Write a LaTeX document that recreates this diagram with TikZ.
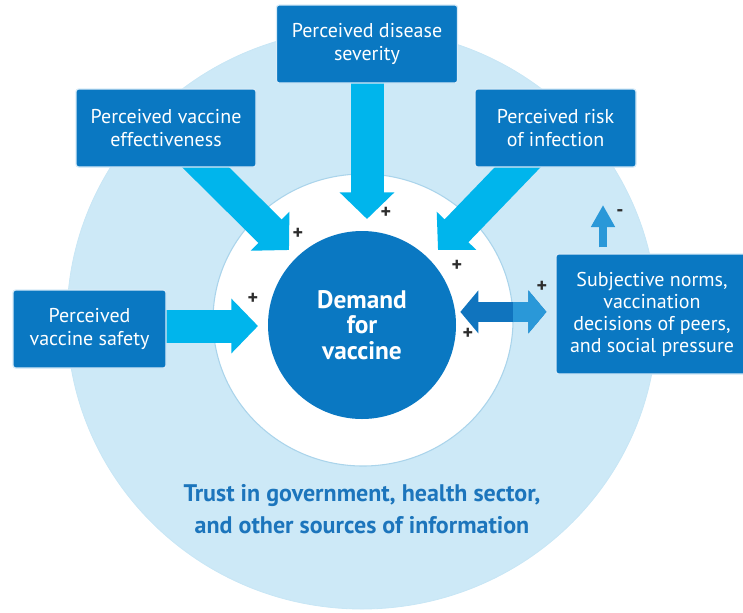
\documentclass[tikz,border=0pt]{standalone}
\usepackage{fontspec}
\setmainfont{PT Sans}
\usetikzlibrary{positioning, arrows.meta, calc, backgrounds}

\definecolor{ringblue}{RGB}{205,233,247}
\definecolor{ringedge}{RGB}{170,212,235}
\definecolor{boxblue}{RGB}{10,120,194}
\definecolor{boxedge}{RGB}{215,235,248}
\definecolor{feedcyan}{RGB}{0,181,236}
\definecolor{peerdark}{RGB}{16,116,190}
\definecolor{peerlight}{RGB}{42,152,216}
\definecolor{trustblue}{RGB}{28,117,188}
\definecolor{signgray}{RGB}{45,45,45}

\begin{document}
\begin{tikzpicture}[
  x=0.75pt, y=-0.75pt,
  every node/.style={align=center},
  factor/.style={draw=boxedge, line width=0.9pt, fill=boxblue, rounded corners=2pt,
    text=white, font=\fontsize{15}{17}\selectfont, minimum height=58.5pt, inner sep=2pt},
  sign/.style={text=signgray, font=\fontsize{15}{15}\selectfont\bfseries, inner sep=0pt},
  feed/.style={line width=24.75pt, color=feedcyan, -{Triangle[length=20pt, width=40pt]}},
  peer/.style={line width=15pt, {Triangle[length=13.5pt, width=31.5pt]}-{Triangle[length=13.5pt, width=31.5pt]},
    shorten <=3.75pt, shorten >=6.75pt},
  pressure/.style={line width=6pt, color=peerlight, -{Triangle[length=16.5pt, width=17pt]}}
]
\useasboundingbox (0,0) rectangle (743,612);

% Demand and its determinants
\node[circle, fill=boxblue, minimum size=141pt, inner sep=0pt, text=white,
  font=\fontsize{19}{19}\selectfont\bfseries] (demand) at (362,325) {Demand\\for\\vaccine};
\node[factor, minimum width=135.75pt] (severity) at (367,44) {Perceived disease\\severity};
\node[factor, minimum width=135pt] (effect) at (166,128) {Perceived vaccine\\effectiveness};
\node[factor, minimum width=120.75pt] (risk) at (555.5,128) {Perceived risk\\of infection};
\node[factor, minimum width=114.75pt] (safety) at (89.5,329) {Perceived\\vaccine safety};
\node[factor, minimum width=144pt, minimum height=90pt, font=\fontsize{15}{16.5}\selectfont] (norms) at (652,314)
  {Subjective norms,\\vaccination\\decisions of peers,\\and social pressure};

\node[text=trustblue, font=\fontsize{18}{24}\selectfont\bfseries] (trust) at (362,509)
  {Trust in government, health sector,\\and other sources of information};

% Arrow tips
\coordinate (severity-tip) at (367,219);
\coordinate (effect-tip) at (289,250);
\coordinate (risk-tip) at (438,250);
\coordinate (safety-tip) at (258,326);
\coordinate (pressure-tip) at (603,205);

% Signs
\node[sign] (plus-effect) at (298,234) {+};
\node[sign] (plus-severity) at (386,213) {+};
\node[sign] (plus-risk) at (457,266) {+};
\node[sign] (plus-safety) at (253,299) {+};
\node[sign] (plus-norms) at (542,287) {+};
\node[sign] (plus-demand) at (468,334) {+};
\node[sign] (minus-pressure) at (620,213) {-};

\begin{scope}[on background layer]
  % Rings
  \fill[ringblue, draw=ringblue!85!ringedge, line width=0.6pt] (362,319) ellipse [x radius=295, y radius=290];
  \fill[white, draw=ringedge, line width=0.8pt] (363,320) ellipse [x radius=150, y radius=146];

  % Connections
  \draw[feed] (severity.center) -- (severity-tip);
  \draw[feed] (effect.center) -- (effect-tip);
  \draw[feed] (risk.center) -- (risk-tip);
  \draw[feed] (safety-tip -| safety.center) -- (safety-tip);

  \draw[peer, color=peerdark] (demand.8) -- (demand.8 -| norms.west);
  \begin{scope}
    \clip (513,0) rectangle (743,612);
    \draw[peer, color=peerlight] (demand.8) -- (demand.8 -| norms.west);
  \end{scope}
\end{scope}

\draw[pressure, shorten <=4.5pt] (pressure-tip |- norms.north) -- (pressure-tip);

\end{tikzpicture}
\end{document}
